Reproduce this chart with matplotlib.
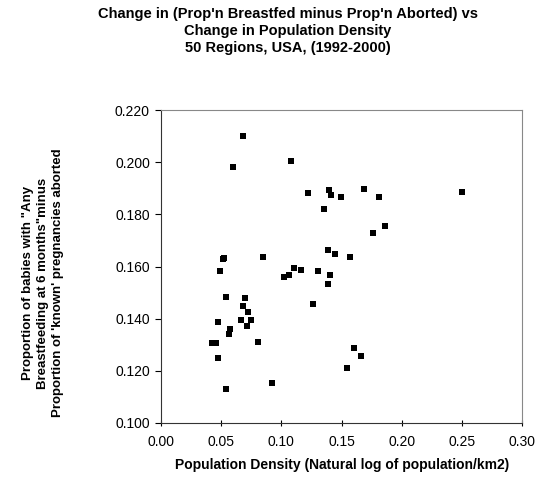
import matplotlib.pyplot as plt

# Change in population density (x) vs change in breastfed-minus-aborted (y), 50 regions
density = [0.0601, 0.0524, 0.0513, 0.0850, 0.0490, 0.0540, 0.0701, 0.0679, 0.0721, 0.0476,
           0.0667, 0.0745, 0.0717, 0.0573, 0.0563, 0.0424, 0.0457, 0.0809, 0.0476, 0.0538,
           0.0920, 0.1078, 0.1219, 0.1396, 0.1413, 0.1498, 0.1690, 0.1809, 0.1352, 0.1762,
           0.1385, 0.1444, 0.1571, 0.1108, 0.1161, 0.1022, 0.1064, 0.1302, 0.1404, 0.1390,
           0.1263, 0.1601, 0.1662, 0.1548, 0.2499, 0.1862, 0.0679]
difference = [0.1983, 0.1633, 0.1627, 0.1637, 0.1582, 0.1483, 0.1478, 0.1447, 0.1427, 0.1386,
              0.1396, 0.1393, 0.1373, 0.1360, 0.1342, 0.1307, 0.1308, 0.1312, 0.1249, 0.1130,
              0.1153, 0.2003, 0.1882, 0.1895, 0.1873, 0.1867, 0.1897, 0.1867, 0.1820, 0.1727,
              0.1665, 0.1649, 0.1638, 0.1596, 0.1587, 0.1560, 0.1568, 0.1583, 0.1569, 0.1533,
              0.1455, 0.1288, 0.1257, 0.1212, 0.1887, 0.1754, 0.2099]

x_ticks = [0.00, 0.05, 0.10, 0.15, 0.20, 0.25, 0.30]
y_ticks = [0.100, 0.120, 0.140, 0.160, 0.180, 0.200, 0.220]

plt.rcParams['font.family'] = ['Liberation Sans', 'DejaVu Sans']

fig = plt.figure(figsize=(5.42, 4.79), dpi=100)
ax = fig.add_axes([161 / 542, 1 - 423 / 479, 361 / 542, 313 / 479])

ax.scatter(density, difference, marker='s', s=24, color='black', linewidths=0)

ax.set_xlim(0, 0.30)
ax.set_ylim(0.100, 0.220)
ax.set_xticks(x_ticks)
ax.set_xticklabels(['%.2f' % v for v in x_ticks])
ax.set_yticks(y_ticks)
ax.set_yticklabels(['%.3f' % v for v in y_ticks])
ax.tick_params(axis='y', direction='out', length=4, width=0.8, labelsize=10, pad=4)
ax.tick_params(axis='x', direction='inout', length=5, width=0.8, labelsize=10, pad=6)

ax.spines['left'].set_color('#333333')
ax.spines['bottom'].set_color('#333333')
ax.spines['top'].set_color('#888888')
ax.spines['right'].set_color('#888888')
for s in ax.spines.values():
    s.set_linewidth(0.8)

fig.text(288 / 542, 1 - 31 / 479,
         "Change in (Prop'n Breastfed minus Prop'n Aborted) vs\n"
         "Change in Population Density\n"
         "50 Regions, USA, (1992-2000)",
         ha='center', va='center', fontsize=10.5, fontweight='bold', linespacing=1.3)

fig.text(43 / 542, 1 - 283 / 479,
         'Proportion of babies with "Any\n'
         'Breastfeeding at 6 months"minus\n'
         "Proportion of 'known' pregnancies aborted",
         ha='center', va='center', rotation=90, fontsize=9.5, fontweight='bold',
         multialignment='center', linespacing=1.35)

fig.text(342 / 542, 1 - 465 / 479, 'Population Density (Natural log of population/km2)',
         ha='center', va='center', fontsize=10, fontweight='bold')

fig.savefig('out.png', dpi=100)
